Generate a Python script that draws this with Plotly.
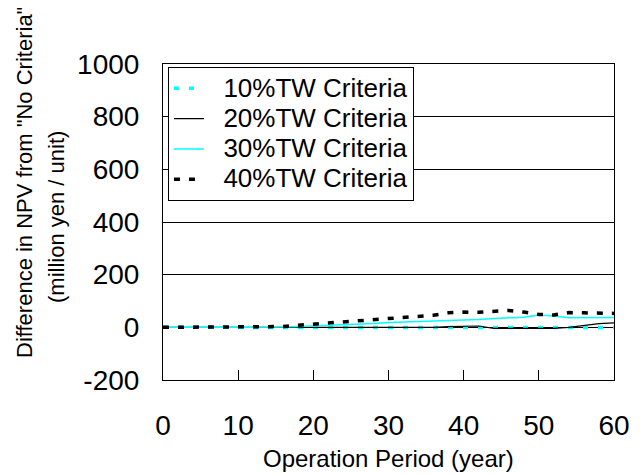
import plotly.graph_objects as go

years = list(range(0, 61, 2))
tw10 = [0, 0, 0, 0, 0, 0, 0, 0, 0, 0, 0, 0, 0, 0, 0, 0, 0, 0, 0, 0, 0, 0, -2, -2, -2, -2, -2, -2, 0, 0, -1]
tw20 = [0, 0, 0, 0, 0, 0, 0, 0, 0, 0, 0, 0, 0, 0, 0, 0, 0, 0, 0, 3, 5, 5, -4, -4, -4, -4, -4, 0, 7, 14, 17]
tw30 = [0, 0, 0, 0, 0, 0, 0, 0, 1, 3, 5, 7, 9, 12, 15, 18, 20, 21, 23, 25, 27, 30, 34, 36, 38, 47, 43, 36, 37, 36, 37]
tw40 = [0, 0, 0, 0, 0, 0, 0, 0, 3, 8, 12, 16, 21, 25, 30, 34, 38, 42, 46, 55, 58, 57, 60, 64, 58, 49, 47, 56, 55, 53, 53]

names = ["10%TW Criteria", "20%TW Criteria", "30%TW Criteria", "40%TW Criteria"]
series = [tw10, tw20, tw30, tw40]
styles = [
    dict(color="#00FFFF", width=3.5, dash="5px,10px"),
    dict(color="#000000", width=1.2, dash="solid"),
    dict(color="#00FFFF", width=1.5, dash="solid"),
    dict(color="#000000", width=3.5, dash="6px,9px"),
]

y_ticks = [-200, 0, 200, 400, 600, 800, 1000]
y_tick_text = ["-200", "0", "200", "400", "600", "800", "1000"]

FONT = "Liberation Sans, Arial, sans-serif"

fig = go.Figure()
for n, s, st in zip(names, series, styles):
    fig.add_trace(go.Scatter(
        x=years, y=s, mode="lines",
        name='<span style="font-size:26px">\u00a0\u00a0' + n + "</span>",
        line=st,
    ))

fig.update_layout(
    width=634, height=466,
    margin=dict(l=155, r=20, t=56, b=94),
    paper_bgcolor="white", plot_bgcolor="white",
    font=dict(family=FONT, color="black"),
    showlegend=True,
    legend=dict(
        x=0.011, y=0.99, xanchor="left", yanchor="top",
        bgcolor="white", bordercolor="black", borderwidth=1,
        font=dict(size=21, family=FONT, color="black"),
        tracegroupgap=0,
    ),
    xaxis=dict(
        range=[0, 60], dtick=10, tick0=0,
        showgrid=False, zeroline=False,
        showline=True, linecolor="black", linewidth=1, mirror=True,
        ticks="inside", ticklen=10, tickcolor="black",
        tickfont=dict(size=28, family=FONT, color="black"),
        ticklabelstandoff=20,
    ),
    yaxis=dict(
        range=[-200, 1000], tickmode="array", tickvals=y_ticks, ticktext=y_tick_text,
        showgrid=True, gridcolor="black", gridwidth=1,
        zeroline=False,
        showline=True, linecolor="black", linewidth=1, mirror=True,
        ticks="",
        tickfont=dict(size=28, family=FONT, color="black"),
        ticklabelstandoff=17,
    ),
)

fig.add_annotation(
    text="Operation Period (year)",
    xref="paper", yref="paper", x=0.5, y=0,
    xanchor="center", yanchor="middle", yshift=-78, showarrow=False,
    font=dict(size=24, family=FONT, color="black"),
)
fig.add_annotation(
    text='Difference in NPV from "No Criteria"', textangle=-90,
    xref="paper", yref="paper", x=0, y=(380 - 183) / 316,
    xanchor="center", yanchor="middle", xshift=-139, showarrow=False,
    font=dict(size=22, family=FONT, color="black"),
)
fig.add_annotation(
    text="(million yen / unit)", textangle=-90,
    xref="paper", yref="paper", x=0, y=(380 - 217) / 316,
    xanchor="center", yanchor="middle", xshift=-107, showarrow=False,
    font=dict(size=22, family=FONT, color="black"),
)

fig.write_html("out.html")
